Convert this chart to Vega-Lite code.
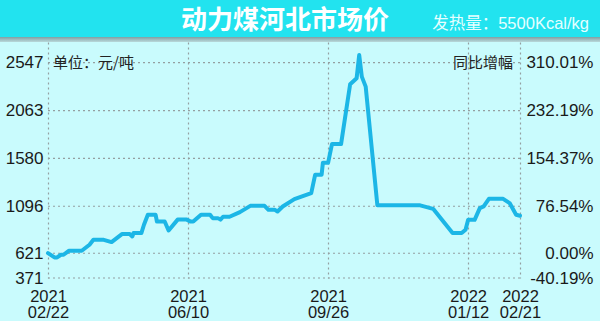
{
  "$schema": "https://vega.github.io/schema/vega-lite/v6.json",
  "background": "#c9fbfd",
  "padding": 0,
  "spacing": 0,
  "config": {"view": {"stroke": null}, "font": "Liberation Sans"},
  "vconcat": [
    {
      "width": 600,
      "height": 37,
      "view": {"fill": "#22e3ef", "stroke": null},
      "data": {"values": [{"title": "动力煤河北市场价", "sub": "发热量：5500Kcal/kg"}]},
      "layer": [
        {
          "mark": {"type": "text", "font": "Noto Sans CJK SC", "fontWeight": "bold", "fontSize": 26, "color": "#ffffff", "dx": -15, "dy": 2.5, "baseline": "middle"},
          "encoding": {"text": {"field": "title"}}
        },
        {
          "mark": {"type": "text", "font": "Liberation Sans, Noto Sans CJK SC", "fontSize": 16.5, "color": "#e6ffff", "align": "right", "dx": 289, "dy": 5.5, "baseline": "middle"},
          "encoding": {"text": {"field": "sub"}}
        }
      ]
    },
    {
      "width": 600,
      "height": 5,
      "data": {"values": [{"t": "shadow"}]},
      "mark": {
        "type": "rect",
        "color": {
          "gradient": "linear",
          "x1": 0, "y1": 0, "x2": 0, "y2": 1,
          "stops": [
            {"offset": 0, "color": "#7f9fa3"},
            {"offset": 1, "color": "#b9d9db"}
          ]
        }
      },
      "encoding": {}
    },
    {
      "width": 520,
      "height": 236,
      "layer": [
        {
          "data": {"values": [
            {"v": 371, "start": "2021-02-22", "end": "2022-02-21"},
            {"v": 621, "start": "2021-02-22", "end": "2022-02-21"},
            {"v": 1096, "start": "2021-02-22", "end": "2022-02-21"},
            {"v": 1580, "start": "2021-02-22", "end": "2022-02-21"},
            {"v": 2063, "start": "2021-02-22", "end": "2022-02-21"},
            {"v": 2547, "start": "2021-02-22", "end": "2022-02-21"}
          ]},
          "mark": {"type": "rule", "color": "#949fa1", "strokeWidth": 1.2, "strokeDash": [2, 3]},
          "encoding": {
            "x": {"field": "start", "type": "temporal"},
            "x2": {"field": "end"},
            "y": {"field": "v", "type": "quantitative", "axis": null}
          }
        },
        {
          "data": {"values": [
            {"date": "2021-02-22", "price": 623},
            {"date": "2021-02-27", "price": 579},
            {"date": "2021-03-01", "price": 579},
            {"date": "2021-03-04", "price": 606},
            {"date": "2021-03-06", "price": 606},
            {"date": "2021-03-10", "price": 646},
            {"date": "2021-03-20", "price": 646},
            {"date": "2021-03-26", "price": 707},
            {"date": "2021-03-29", "price": 757},
            {"date": "2021-04-06", "price": 757},
            {"date": "2021-04-12", "price": 734},
            {"date": "2021-04-20", "price": 815},
            {"date": "2021-04-26", "price": 815},
            {"date": "2021-04-28", "price": 791},
            {"date": "2021-04-29", "price": 825},
            {"date": "2021-05-05", "price": 825},
            {"date": "2021-05-07", "price": 909},
            {"date": "2021-05-10", "price": 1010},
            {"date": "2021-05-16", "price": 1010},
            {"date": "2021-05-17", "price": 942},
            {"date": "2021-05-23", "price": 942},
            {"date": "2021-05-26", "price": 851},
            {"date": "2021-06-02", "price": 961},
            {"date": "2021-06-09", "price": 961},
            {"date": "2021-06-12", "price": 941},
            {"date": "2021-06-14", "price": 941},
            {"date": "2021-06-20", "price": 1010},
            {"date": "2021-06-27", "price": 1010},
            {"date": "2021-06-29", "price": 976},
            {"date": "2021-07-03", "price": 976},
            {"date": "2021-07-05", "price": 961},
            {"date": "2021-07-07", "price": 990},
            {"date": "2021-07-12", "price": 990},
            {"date": "2021-07-20", "price": 1037},
            {"date": "2021-07-28", "price": 1100},
            {"date": "2021-08-08", "price": 1100},
            {"date": "2021-08-11", "price": 1060},
            {"date": "2021-08-16", "price": 1060},
            {"date": "2021-08-18", "price": 1043},
            {"date": "2021-08-22", "price": 1094},
            {"date": "2021-08-31", "price": 1168},
            {"date": "2021-09-13", "price": 1229},
            {"date": "2021-09-16", "price": 1414},
            {"date": "2021-09-21", "price": 1414},
            {"date": "2021-09-22", "price": 1535},
            {"date": "2021-09-26", "price": 1535},
            {"date": "2021-09-29", "price": 1724},
            {"date": "2021-10-06", "price": 1724},
            {"date": "2021-10-13", "price": 2329},
            {"date": "2021-10-18", "price": 2390},
            {"date": "2021-10-20", "price": 2625},
            {"date": "2021-10-22", "price": 2406},
            {"date": "2021-10-25", "price": 2305},
            {"date": "2021-11-03", "price": 1105},
            {"date": "2021-12-06", "price": 1105},
            {"date": "2021-12-16", "price": 1070},
            {"date": "2021-12-31", "price": 825},
            {"date": "2022-01-07", "price": 825},
            {"date": "2022-01-10", "price": 858},
            {"date": "2022-01-12", "price": 959},
            {"date": "2022-01-17", "price": 959},
            {"date": "2022-01-21", "price": 1077},
            {"date": "2022-01-24", "price": 1094},
            {"date": "2022-01-28", "price": 1171},
            {"date": "2022-02-08", "price": 1171},
            {"date": "2022-02-13", "price": 1128},
            {"date": "2022-02-18", "price": 1010},
            {"date": "2022-02-21", "price": 1000}
          ]},
          "mark": {"type": "line", "color": "#1cb6e6", "strokeWidth": 4, "strokeJoin": "round", "strokeCap": "round", "clip": false},
          "encoding": {
            "x": {
              "field": "date",
              "type": "temporal",
              "scale": {
                "type": "utc",
                "domain": [
                  {"year": 2021, "month": 2, "date": 22, "utc": true},
                  {"year": 2022, "month": 2, "date": 21, "utc": true}
                ],
                "range": [48, 520]
              },
              "axis": {
                "title": null,
                "values": [
                  {"year": 2021, "month": 2, "date": 22, "utc": true},
                  {"year": 2021, "month": 6, "date": 10, "utc": true},
                  {"year": 2021, "month": 9, "date": 26, "utc": true},
                  {"year": 2022, "month": 1, "date": 12, "utc": true},
                  {"year": 2022, "month": 2, "date": 21, "utc": true}
                ],
                "labelExpr": "[utcFormat(datum.value, '%Y'), utcFormat(datum.value, '%m/%d')]",
                "grid": true,
                "gridDash": [2, 3],
                "gridColor": "#949fa1",
                "gridWidth": 1.2,
                "domain": false,
                "ticks": false,
                "labelFontSize": 16.5,
                "labelColor": "#1a1a1a",
                "labelPadding": 10,
                "labelLineHeight": 16.5,
                "labelOverlap": false,
                "labelBound": false,
                "labelFlush": false
              }
            },
            "y": {
              "field": "price",
              "type": "quantitative",
              "scale": {"domain": [371, 2756], "nice": false, "zero": false},
              "axis": {
                "title": null,
                "orient": "left",
                "values": [371, 621, 1096, 1580, 2063, 2547],
                "format": "d",
                "grid": false,
                "domain": false,
                "ticks": false,
                "labelFontSize": 17,
                "labelColor": "#1a1a1a",
                "labelAlign": "right",
                "labelPadding": -43,
                "labelOverlap": false,
                "labelBound": false,
                "minExtent": 0,
                "maxExtent": 0
              }
            }
          }
        },
        {
          "data": {"values": [{"date": "2021-02-22", "value": 2547, "label": "单位：元/吨"}]},
          "mark": {"type": "text", "align": "left", "baseline": "middle", "dx": 5, "fontSize": 15, "font": "Noto Sans CJK SC", "color": "#222222"},
          "encoding": {
            "x": {"field": "date", "type": "temporal"},
            "y": {"field": "value", "type": "quantitative", "axis": null},
            "text": {"field": "label"}
          }
        },
        {
          "data": {"values": [{"date": "2022-02-21", "value": 2547, "label": "同比增幅"}]},
          "mark": {"type": "text", "align": "right", "baseline": "middle", "dx": -7, "fontSize": 15, "font": "Noto Sans CJK SC", "color": "#222222"},
          "encoding": {
            "x": {"field": "date", "type": "temporal"},
            "y": {
              "field": "value",
              "type": "quantitative",
              "axis": {
                "title": null,
                "orient": "right",
                "values": [371, 621, 1096, 1580, 2063, 2547],
                "labelExpr": "datum.value == 2547 ? '310.01%' : datum.value == 2063 ? '232.19%' : datum.value == 1580 ? '154.37%' : datum.value == 1096 ? '76.54%' : datum.value == 621 ? '0.00%' : '-40.19%'",
                "grid": false,
                "domain": false,
                "ticks": false,
                "labelAlign": "right",
                "labelPadding": 73,
                "labelFontSize": 17,
                "labelColor": "#1a1a1a",
                "labelOverlap": false,
                "labelBound": false
              }
            },
            "text": {"field": "label"}
          }
        }
      ],
      "resolve": {"axis": {"y": "independent"}}
    }
  ]
}
